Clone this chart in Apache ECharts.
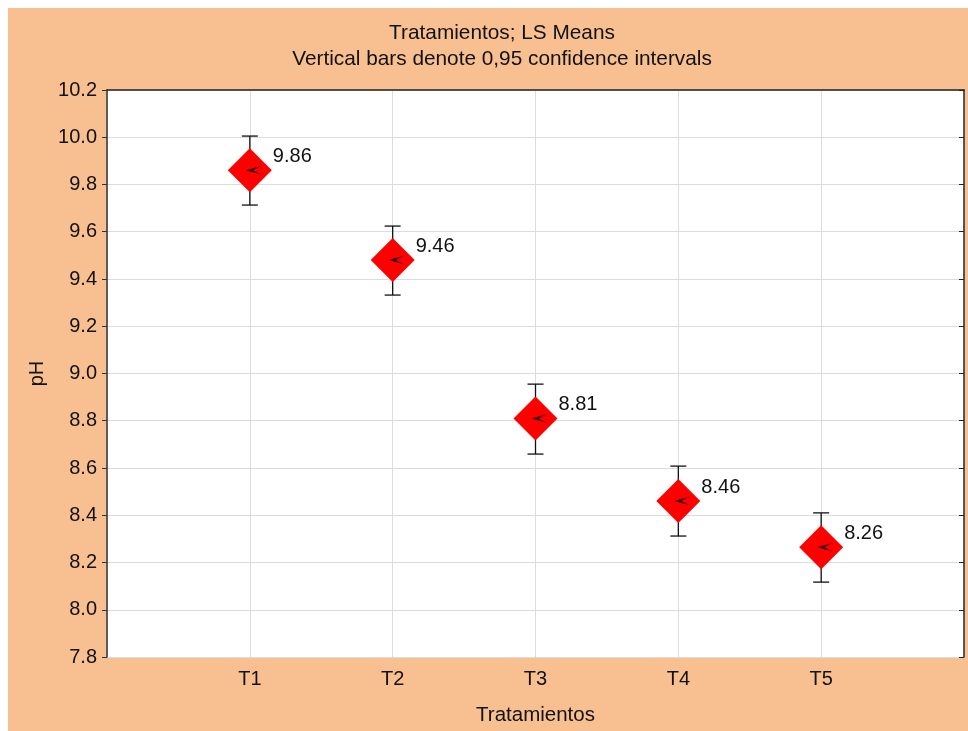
<!DOCTYPE html>
<html>
<head>
<meta charset="utf-8">
<script src="https://cdn.jsdelivr.net/npm/echarts@6/dist/echarts.min.js"></script>
<style>
html,body{margin:0;padding:0;background:#fff;}
#chart{width:968px;height:731px;}
</style>
</head>
<body>
<div id="chart"></div>
<script>
var categories = ['T1', 'T2', 'T3', 'T4', 'T5'];
var means = [9.86, 9.48, 8.81, 8.46, 8.265];
var lower = [9.713, 9.332, 8.659, 8.312, 8.117];
var upper = [10.005, 9.624, 8.955, 8.608, 8.41];
var meanLabels = ['9.86', '9.46', '8.81', '8.46', '8.26'];
var yTicks = ['7.8','8.0','8.2','8.4','8.6','8.8','9.0','9.2','9.4','9.6','9.8','10.0','10.2'];

var axisCats = [''].concat(categories).concat(['']);
var FONT = 'Liberation Sans, Arial, sans-serif';

var chart = echarts.init(document.getElementById('chart'));
var pointData = categories.map(function (c, i) { return [c, means[i]]; });
var errData = categories.map(function (c, i) { return [c, lower[i], upper[i]]; });

var option = {
  backgroundColor: '#ffffff',
  animation: false,
  graphic: [{
    type: 'rect', z: -10, silent: true,
    shape: { x: 8, y: 8, width: 960, height: 723 },
    style: { fill: '#F8C090' }
  }],
  title: {
    text: 'Tratamientos; LS Means\nVertical bars denote 0,95 confidence intervals',
    left: 497, top: 15, textAlign: 'center',
    textStyle: { fontFamily: FONT, fontSize: 20.8, fontWeight: 'normal', color: '#111', lineHeight: 26 }
  },
  grid: {
    left: 107, right: 4, top: 90, bottom: 74,
    show: true, backgroundColor: '#ffffff', borderWidth: 0
  },
  xAxis: [{
    type: 'category', data: axisCats, boundaryGap: false,
    name: 'Tratamientos', nameLocation: 'middle', nameGap: 48,
    nameTextStyle: { fontFamily: FONT, fontSize: 20.5, color: '#111' },
    axisLine: { show: false },
    axisTick: { show: false },
    axisLabel: { fontFamily: FONT, fontSize: 20, color: '#111', margin: 12, interval: 0 },
    splitLine: { show: true, interval: 0, lineStyle: { color: '#dcdcdc', width: 1 } }
  }, {
    type: 'category', data: axisCats, boundaryGap: false, position: 'top',
    axisLine: { show: true, onZero: false, lineStyle: { color: '#222', width: 1.5 } },
    axisTick: { show: false }, axisLabel: { show: false }, splitLine: { show: false }
  }],
  yAxis: [{
    type: 'value', min: 7.8, max: 10.2, interval: 0.2,
    name: 'pH', nameLocation: 'middle', nameGap: 60, nameRotate: 90,
    nameTextStyle: { fontFamily: FONT, fontSize: 20, color: '#111' },
    axisLine: { show: true, lineStyle: { color: '#333', width: 1.5 } },
    axisTick: { show: true, length: 5, lineStyle: { color: '#333', width: 1 } },
    axisLabel: {
      fontFamily: FONT, fontSize: 20, color: '#111', margin: 10,
      formatter: function (v) { var k = Math.round((v - 7.8) / 0.2); return yTicks[k] !== undefined ? yTicks[k] : ''; }
    },
    splitLine: { show: true, lineStyle: { color: '#dcdcdc', width: 1 } }
  }, {
    type: 'value', min: 7.8, max: 10.2, interval: 0.2, position: 'right',
    axisLine: { show: true, lineStyle: { color: '#222', width: 1.5 } },
    axisTick: { show: true, inside: true, length: 5, lineStyle: { color: '#222', width: 1 } },
    axisLabel: { show: false }, splitLine: { show: false }
  }],
  series: [{
    type: 'custom',
    data: errData,
    z: 3,
    renderItem: function (params, api) {
      var x = api.coord([api.value(0), api.value(1)])[0];
      var lo = api.coord([api.value(0), api.value(1)])[1];
      var hi = api.coord([api.value(0), api.value(2)])[1];
      var w = 8;
      var st = { stroke: '#111', lineWidth: 1.3 };
      return {
        type: 'group',
        children: [
          { type: 'line', shape: { x1: x, y1: lo, x2: x, y2: hi }, style: st },
          { type: 'line', shape: { x1: x - w, y1: lo, x2: x + w, y2: lo }, style: st },
          { type: 'line', shape: { x1: x - w, y1: hi, x2: x + w, y2: hi }, style: st }
        ]
      };
    }
  }, {
    type: 'scatter',
    data: pointData,
    symbol: 'diamond', symbolSize: 44, z: 5,
    itemStyle: { color: '#FF0000', opacity: 1 },
    label: {
      show: true, position: [45, 8], align: 'left', verticalAlign: 'middle',
      fontFamily: FONT, fontSize: 20, color: '#111',
      formatter: function (p) { return meanLabels[p.dataIndex]; }
    }
  }, {
    type: 'scatter',
    data: pointData,
    symbol: 'path://M0,5 L16,0 L7,5 L16,10 Z', symbolSize: [16, 9],
    symbolOffset: [4, 0], z: 6,
    itemStyle: { color: '#000' }
  }]
};
chart.setOption(option);
</script>
</body>
</html>
